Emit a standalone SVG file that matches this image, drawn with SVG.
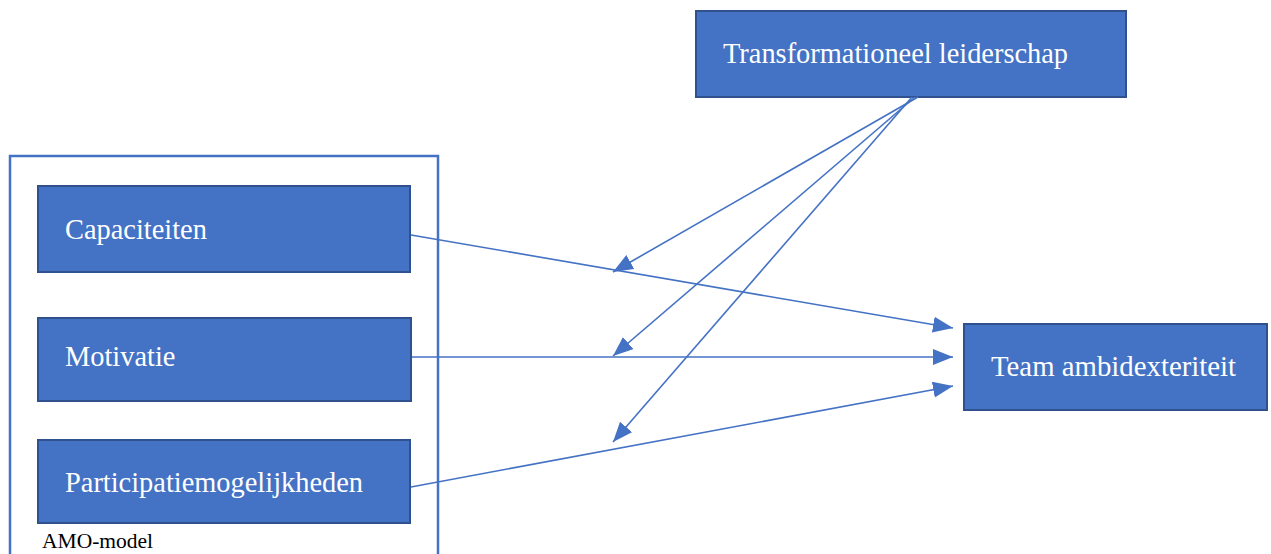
<svg xmlns="http://www.w3.org/2000/svg" width="1271" height="554" viewBox="0 0 1271 554">
  <style>
    .node { fill: #4472C4; stroke: #2F528F; stroke-width: 2; }
    .frame { fill: none; stroke: #4472C4; stroke-width: 2.5; }
    .label { font-family: "Liberation Serif", "Times New Roman", serif; font-size: 28.4px; fill: #FFFFFF; }
    .caption { font-family: "Liberation Serif", "Times New Roman", serif; font-size: 21.5px; fill: #000000; }
    .edge { fill: none; stroke: #4472C4; stroke-width: 1.6; marker-end: url(#arrow); }
  </style>
  <defs>
    <marker id="arrow" markerUnits="userSpaceOnUse" markerWidth="22" markerHeight="18" refX="20" refY="8" orient="auto">
      <path d="M0,0 L20,8 L0,16 Z" fill="#4472C4"/>
    </marker>
  </defs>

  <rect width="1271" height="554" fill="#FFFFFF"/>

  <!-- AMO-model frame -->
  <g id="amo-model">
    <rect class="frame" x="10" y="156" width="428" height="410"/>
    <text class="caption" x="42" y="548">AMO-model</text>
  </g>

  <g id="transformationeel-leiderschap">
    <rect class="node" x="696" y="11" width="430" height="86"/>
    <text class="label" x="723" y="63">Transformationeel leiderschap</text>
  </g>

  <g id="capaciteiten">
    <rect class="node" x="38" y="186" width="372" height="86"/>
    <text class="label" x="65" y="239">Capaciteiten</text>
  </g>

  <g id="motivatie">
    <rect class="node" x="38" y="318" width="373" height="83"/>
    <text class="label" x="65" y="366">Motivatie</text>
  </g>

  <g id="participatiemogelijkheden">
    <rect class="node" x="38" y="440" width="372" height="83"/>
    <text class="label" x="65" y="492">Participatiemogelijkheden</text>
  </g>

  <g id="team-ambidexteriteit">
    <rect class="node" x="964" y="324" width="303" height="86"/>
    <text class="label" x="991" y="376" style="font-size:28.8px">Team ambidexteriteit</text>
  </g>

  <!-- connectors -->
  <g id="connectors">
    <line class="edge" x1="411" y1="235" x2="953" y2="328"/>
    <line class="edge" x1="412" y1="357" x2="953" y2="357"/>
    <line class="edge" x1="411" y1="487" x2="953" y2="386"/>
    <line class="edge" x1="918" y1="97" x2="613" y2="272"/>
    <line class="edge" x1="915" y1="97" x2="613" y2="356"/>
    <line class="edge" x1="912" y1="97" x2="613" y2="442"/>
  </g>
</svg>
